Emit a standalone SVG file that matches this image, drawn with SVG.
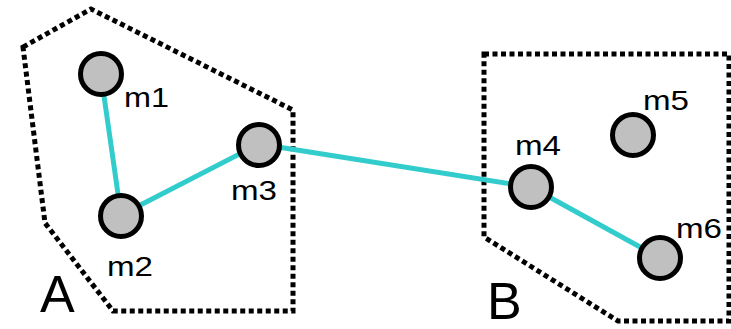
<svg xmlns="http://www.w3.org/2000/svg" width="731" height="329" viewBox="0 0 731 329">
<style>
.grp{fill:none;stroke:#000;stroke-width:5;stroke-dasharray:5 3.5}
.edge{stroke:#33CCCC;stroke-width:5;fill:none}
.node{fill:#C0C0C0;stroke:#000;stroke-width:5}
.lbl{font-family:"Liberation Sans",Arial,sans-serif;font-size:27px;fill:#000}
.big{font-family:"Liberation Sans",Arial,sans-serif;font-size:52px;fill:#000}
</style>
<rect width="731" height="329" fill="#fff"/>
<g id="groupA">
<polygon class="grp" points="23,47 91,9 293,110 293,311 113,311 45,223"/>
<text class="big" x="40" y="312">A</text>
</g>
<g id="groupB">
<polygon class="grp" points="484,54 729,54 729,321 618,321 484,237"/>
<text class="big" x="487" y="319">B</text>
</g>
<g id="connectors">
<line class="edge" x1="101" y1="75" x2="121" y2="215"/>
<line class="edge" x1="121" y1="215" x2="259" y2="144"/>
<line class="edge" x1="259" y1="144" x2="531" y2="187"/>
<line class="edge" x1="531" y1="187" x2="660" y2="258"/>
</g>
<g id="m1"><circle class="node" cx="101" cy="74" r="20.5"/><text class="lbl" x="124" y="107" textLength="45" lengthAdjust="spacingAndGlyphs">m1</text></g>
<g id="m2"><circle class="node" cx="121" cy="216" r="20.5"/><text class="lbl" x="107" y="276" textLength="46" lengthAdjust="spacingAndGlyphs">m2</text></g>
<g id="m3"><circle class="node" cx="259" cy="145" r="20.5"/><text class="lbl" x="231" y="200" textLength="46" lengthAdjust="spacingAndGlyphs">m3</text></g>
<g id="m4"><circle class="node" cx="531" cy="187" r="20.5"/><text class="lbl" x="515" y="155" textLength="46" lengthAdjust="spacingAndGlyphs">m4</text></g>
<g id="m5"><circle class="node" cx="633" cy="135" r="20.5"/><text class="lbl" x="643" y="110" textLength="46" lengthAdjust="spacingAndGlyphs">m5</text></g>
<g id="m6"><circle class="node" cx="660" cy="258" r="20.5"/><text class="lbl" x="676" y="238" textLength="46" lengthAdjust="spacingAndGlyphs">m6</text></g>
</svg>
